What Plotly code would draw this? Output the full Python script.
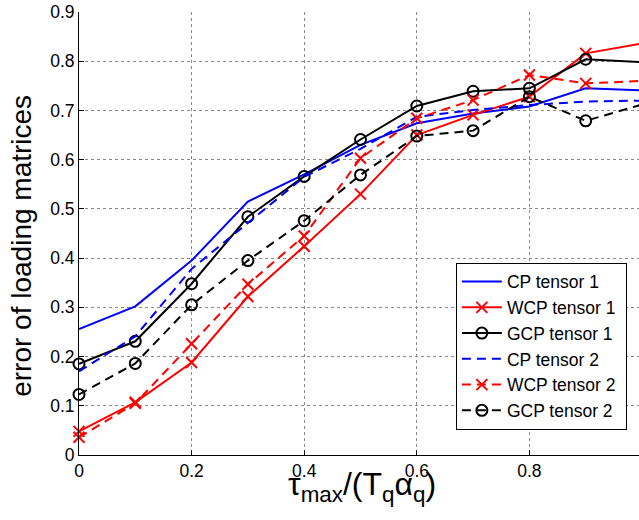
import plotly.graph_objects as go

# x values: tau_max / (T_q * alpha_q)
x = [0.0, 0.1, 0.2, 0.3, 0.4, 0.5, 0.6, 0.7, 0.8, 0.9, 1.0]

cp_t1 = [0.256, 0.302, 0.395, 0.515, 0.570, 0.630, 0.674, 0.694, 0.708, 0.745, 0.741]
wcp_t1 = [0.048, 0.107, 0.188, 0.322, 0.424, 0.530, 0.650, 0.691, 0.728, 0.816, 0.836]
gcp_t1 = [0.185, 0.231, 0.348, 0.484, 0.566, 0.641, 0.709, 0.739, 0.745, 0.804, 0.798]
cp_t2 = [0.170, 0.241, 0.378, 0.472, 0.565, 0.622, 0.687, 0.701, 0.711, 0.718, 0.720]
wcp_t2 = [0.036, 0.105, 0.226, 0.347, 0.445, 0.603, 0.684, 0.721, 0.772, 0.755, 0.760]
gcp_t2 = [0.123, 0.186, 0.305, 0.395, 0.476, 0.569, 0.648, 0.659, 0.728, 0.679, 0.712]

FONT = "Liberation Sans, Arial, Helvetica, sans-serif"
DASH = "9px,6px"
PAD = "\u00a0"  # right padding inside the legend box

series = [
    ("CP tensor 1", cp_t1, "#0000ff", "solid", None),
    ("WCP tensor 1", wcp_t1, "#ff0000", "solid", "x-thin-open"),
    ("GCP tensor 1", gcp_t1, "#000000", "solid", "circle-open"),
    ("CP tensor 2", cp_t2, "#0000ff", DASH, None),
    ("WCP tensor 2", wcp_t2, "#ff0000", DASH, "x-thin-open"),
    ("GCP tensor 2", gcp_t2, "#000000", DASH, "circle-open"),
]

fig = go.Figure()
for name, y, color, dash, symbol in series:
    if symbol is None:
        mode = "lines"
        marker = None
    else:
        mode = "lines+markers"
        marker = dict(symbol=symbol, size=11, color=color,
                      line=dict(color=color, width=2))
    fig.add_trace(go.Scatter(
        x=x, y=y, name=name + PAD, mode=mode,
        line=dict(color=color, width=2, dash=dash),
        marker=marker, cliponaxis=False,
    ))

# plot area: x=0 at 78.5px, 0.2 per 112.7px; right edge at 639px
x_right = (639 - 78.5) / (112.7 / 0.2)

axis_common = dict(
    showgrid=True, gridcolor="#8a8a8a", griddash="dot", gridwidth=1,
    zeroline=False, showline=True, linecolor="black", linewidth=1,
    ticks="inside", ticklen=5, tickcolor="black",
    tickfont=dict(family=FONT, size=17.5, color="black"),
)

xtitle = "τ<sub>max</sub>/(T<sub>q</sub>α<sub>q</sub>)"

fig.update_layout(
    width=639, height=520,
    margin=dict(l=78.5, r=0, t=12.3, b=64.5),
    paper_bgcolor="white", plot_bgcolor="white",
    font=dict(family=FONT, size=17.5, color="black"),
    showlegend=True,
    legend=dict(
        x=0.673, y=0.434, xanchor="left", yanchor="top",
        bgcolor="white", bordercolor="black", borderwidth=1,
        font=dict(family=FONT, size=17.5, color="black"),
        tracegroupgap=0, itemsizing="trace", itemwidth=40,
    ),
    xaxis=dict(
        range=[0, x_right], tickvals=[0, 0.2, 0.4, 0.6, 0.8, 1.0],
        ticktext=["0", "0.2", "0.4", "0.6", "0.8", "1"],
        **axis_common,
    ),
    yaxis=dict(
        range=[0, 0.9], tickvals=[0, 0.1, 0.2, 0.3, 0.4, 0.5, 0.6, 0.7, 0.8, 0.9],
        ticktext=["0", "0.1", "0.2", "0.3", "0.4", "0.5", "0.6", "0.7", "0.8", "0.9"],
        **axis_common,
    ),
    annotations=[
        dict(text="error of loading matrices", textangle=-90,
             xref="paper", yref="paper", x=-0.102, y=0.472,
             xanchor="center", yanchor="middle", showarrow=False,
             font=dict(family=FONT, size=28, color="black")),
        dict(text=xtitle,
             xref="paper", yref="paper", x=0.505, y=-0.021,
             xanchor="center", yanchor="top", showarrow=False,
             font=dict(family=FONT, size=32, color="black")),
    ],
)

fig.write_html("out.html")
